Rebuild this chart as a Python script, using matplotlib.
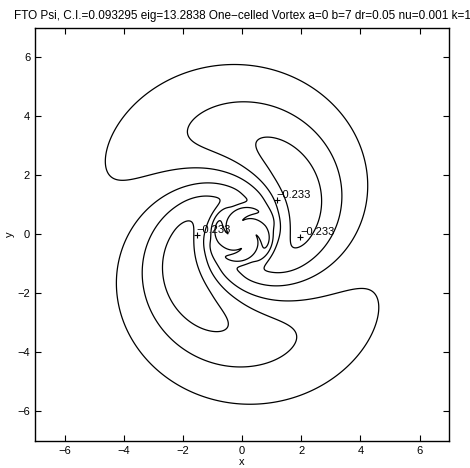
import numpy as np
import matplotlib
matplotlib.use("Agg")
import matplotlib.pyplot as plt

plt.rcParams['font.family'] = ['Liberation Sans', 'DejaVu Sans']

# contour interval and levels (multiples of C.I.)
ci = 0.093295
level_steps = [-2.5, -1.5, -0.5, 0.5]
levels = [s * ci for s in level_steps]

# spiral field parameters (m=2 perturbation streamfunction)
m = 2
theta0_deg = -16.0
twist_deg = 74.0          # degrees per unit ln(r)
inner_wind = 0.6          # extra winding near the core (rad * r)
ang_power = 0.55
amp_peak = 0.285
r_peak = 2.3
w_inner = 1.5
w_outer = 2.6
taper_r = 1.1
# core (pinwheel) parameters
core_amp = 0.42
core_r = 0.62
blade_m = 4
blade_amp = 0.8
blade_deg = 60.0
blade_wind = 2.4          # rad per unit r

# label positions (x, y) and text
label_xy = [(1.17, 1.18), (1.96, -0.10), (-1.53, -0.03)]
label_txt = ["-0.233", "-0.233", "-0.233"]

title = "FTO Psi, C.I.=0.093295 eig=13.2838 One\u2212celled Vortex a=0 b=7 dr=0.05 nu=0.001 k=1"
ticks = [-6, -4, -2, 0, 2, 4, 6]
lim = 7

# grid
x = np.linspace(-lim, lim, 701)
X, Y = np.meshgrid(x, x)
R = np.hypot(X, Y) + 1e-9
TH = np.arctan2(Y, X)

theta_c = np.deg2rad(theta0_deg) + np.deg2rad(twist_deg) * np.log(R) - inner_wind / R
g = (0.5 * (1 + np.cos(m * (TH - theta_c)))) ** ang_power
w = np.where(R < r_peak, w_inner, w_outer)
A = amp_peak * np.exp(-((R - r_peak) / w) ** 2) * (1 - np.exp(-(R / taper_r) ** 6))
blade = np.cos(blade_m * (TH - np.deg2rad(blade_deg)) + blade_m * blade_wind * (R - 1.0))
core = core_amp * np.exp(-(R / core_r) ** 2) * (1 + blade_amp * blade)
psi = -A * g + core

fig = plt.figure(figsize=(4.7, 4.68), dpi=100)
ax = fig.add_axes([0.0745, 0.0577, 0.881, 0.883])
ax.contour(X, Y, psi, levels=levels, colors='black', linewidths=0.9,
           linestyles='solid')

for (lx, ly), t in zip(label_xy, label_txt):
    ax.plot(lx, ly, marker='+', color='black', markersize=5, markeredgewidth=0.8)
    ax.text(lx, ly, t.replace('-', '\u2212'), fontsize=8, ha='left', va='bottom')

ax.set_xlim(-lim, lim)
ax.set_ylim(-lim, lim)
ax.set_xticks(ticks)
ax.set_yticks(ticks)
ax.set_xticklabels([str(t).replace('-', '\u2212') for t in ticks])
ax.set_yticklabels([str(t).replace('-', '\u2212') for t in ticks])
ax.tick_params(direction='in', top=True, right=True, labelsize=8, length=4, width=0.8)
for sp in ax.spines.values():
    sp.set_linewidth(1.0)
ax.set_xlabel('x', fontsize=8, labelpad=1)
ax.set_ylabel('y', fontsize=8, labelpad=2)
ax.set_title(title, fontsize=8.45, pad=6)

fig.savefig('out.png', dpi=100)
